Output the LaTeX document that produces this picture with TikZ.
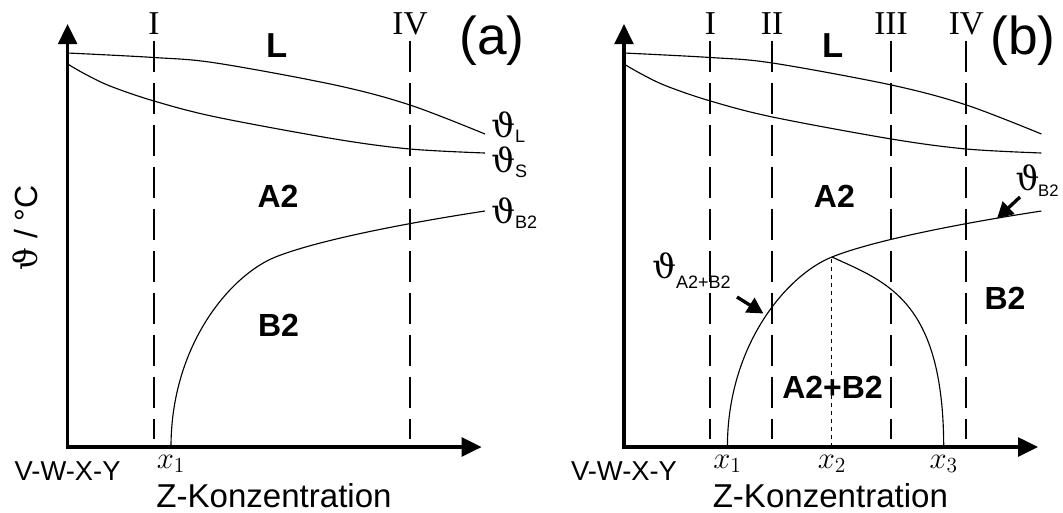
\RequirePackage{fix-cm}
\documentclass[tikz,border=0pt]{standalone}
\usepackage{fontspec}
\setmainfont{Liberation Sans}
\newfontfamily\romfont{Liberation Serif}
\newfontfamily\thfont{DejaVu Serif}
\usetikzlibrary{arrows.meta}
\newcommand{\thsub}[3]{{\thfont ϑ}\kern#3\raisebox{#2}{\fontsize{13.5}{13.5}\selectfont #1}}
\newcommand{\drawpanel}[1]{%
  \coordinate (#1o) at (67.6,447);
  \coordinate (#1top) at (67.6,24);
  \coordinate (#1right) at (481.7,447);
  \draw[axis] (#1top) -- (#1o) -- (#1right);
  \draw[curve] plot[smooth,tension=0.55] coordinates {(67.6,53) (154,57.5) (216,63) (335,85) (410,105) (485,134)};
  \draw[curve] plot[smooth,tension=0.55] coordinates {(67.6,64) (85,74) (110,86) (154,101) (216,117) (335,139) (410,149) (485,153)};
  \coordinate (#1foot) at (171,447);
  \coordinate (#1peak) at (275.5,257);
  \coordinate (#1end) at (485,211);
  \draw[curve] (#1foot) .. controls (171,345) and (230.5,275) .. (#1peak) .. controls (315.5,241) and (400,224) .. (#1end);
  \coordinate (#1It) at (154,40.6);
  \coordinate (#1Ib) at (154,439);
  \coordinate (#1IVt) at (410,40.6);
  \coordinate (#1IVb) at (410,439);
  \draw[sect] (#1It) -- (#1Ib);
  \draw[sect] (#1IVt) -- (#1IVb);
  \node[roman] (#1I) at (154,34) {I};
  \node[roman] (#1IV) at (410,34) {IV};
  \node[phase, font=\fontsize{26}{26}\selectfont\bfseries] (#1L) at (277,57) {L};
  \node[phase] (#1A2) at (278,207) {A2};
  \node[axlab] (#1base) at (67.6,480) {V-W-X-Y};
  \node[xlab] (#1conc) at (274,507) {Z-Konzentration};
  \node[xsub] (#1x1) at (171,468) {$x_1$};
}
\begin{document}
\begin{tikzpicture}[x=0.75pt,y=-0.75pt,
  axis/.style={line width=2.5pt, line join=miter, {Triangle[length=15pt,width=14pt]}-{Triangle[length=15pt,width=14pt]}},
  curve/.style={line width=0.85pt},
  sect/.style={line width=1.6pt, dash pattern=on 23.25pt off 8.25pt},
  thin/.style={line width=0.75pt, dash pattern=on 3pt off 3pt},
  phase/.style={font=\fontsize{24}{24}\selectfont\bfseries, anchor=base, inner sep=0},
  roman/.style={font=\romfont\fontsize{25}{25}\selectfont, anchor=base, inner sep=0},
  axlab/.style={font=\fontsize{20.5}{20.5}\selectfont, anchor=base, inner sep=0},
  xlab/.style={font=\fontsize{24.8}{24.8}\selectfont, anchor=base, inner sep=0},
  xsub/.style={font=\fontsize{23}{23}\selectfont, anchor=base, inner sep=0},
  panlab/.style={font=\fontsize{40}{40}\selectfont, anchor=base, inner sep=0},
  thlab/.style={font=\fontsize{25}{25}\selectfont, anchor=base west, inner sep=0},
  lblarrow/.style={line width=2.5pt, -{Triangle[length=12pt,width=12.5pt]}}
]
\useasboundingbox (0,0) rectangle (1063,512);
% ---------- panel (a)
\drawpanel{a}
\node[phase] (aB2) at (278.5,336.5) {B2};
\node[panlab] (apan) at (492,54) {(a)};
\node[thlab] (athL) at (491,137) {\thsub{L}{-3.75pt}{0pt}};
\node[thlab] (athS) at (491,172) {\thsub{S}{-3.75pt}{0pt}};
\node[thlab] (athB) at (491,223) {\thsub{B2}{-3.75pt}{0pt}};
\node[rotate=90, font=\fontsize{24}{24}\selectfont, inner sep=0] (ylab) at (25,228) {{\thfont ϑ} / °C};
% ---------- panel (b)
\begin{scope}[xshift=417.3pt]
\drawpanel{b}
\coordinate (bIIt) at (215.6,40.6);
\coordinate (bIIb) at (215.6,439);
\coordinate (bIIIt) at (334.6,40.6);
\coordinate (bIIIb) at (334.6,439);
\draw[sect] (bIIt) -- (bIIb);
\draw[sect] (bIIIt) -- (bIIIb);
\node[roman] (bII) at (215.6,34) {II};
\node[roman] (bIII) at (334.6,34) {III};
\coordinate (bx3foot) at (387.3,447);
\draw[curve] (bpeak) .. controls (330,282) and (387,300) .. (bx3foot);
\coordinate (bx2foot) at (275.5,447);
\draw[thin] (bx2foot) -- (bpeak);
\node[xsub] (bx2) at (275.5,468) {$x_2$};
\node[xsub] (bx3) at (387.3,468) {$x_3$};
\node[phase] (bA2B2) at (276.1,398) {A2+B2};
\node[phase] (bB2) at (448.6,309) {B2};
\node[panlab] (bpan) at (466.6,54) {(b)};
\node[thlab] (bthB) at (459,190) {\thsub{\fontsize{12.5}{12.5}\selectfont B2}{-5pt}{-1pt}};
\coordinate (bthBs) at (463.6,197);
\coordinate (bthBt) at (440.6,218.5);
\draw[lblarrow] (bthBs) -- (bthBt);
\node[thlab] (bthAB) at (95.6,278) {\thsub{A2+B2}{-8pt}{0pt}};
\coordinate (bthABs) at (180.6,297);
\coordinate (bthABt) at (207,313.5);
\draw[lblarrow] (bthABs) -- (bthABt);
\end{scope}
\end{tikzpicture}
\end{document}
